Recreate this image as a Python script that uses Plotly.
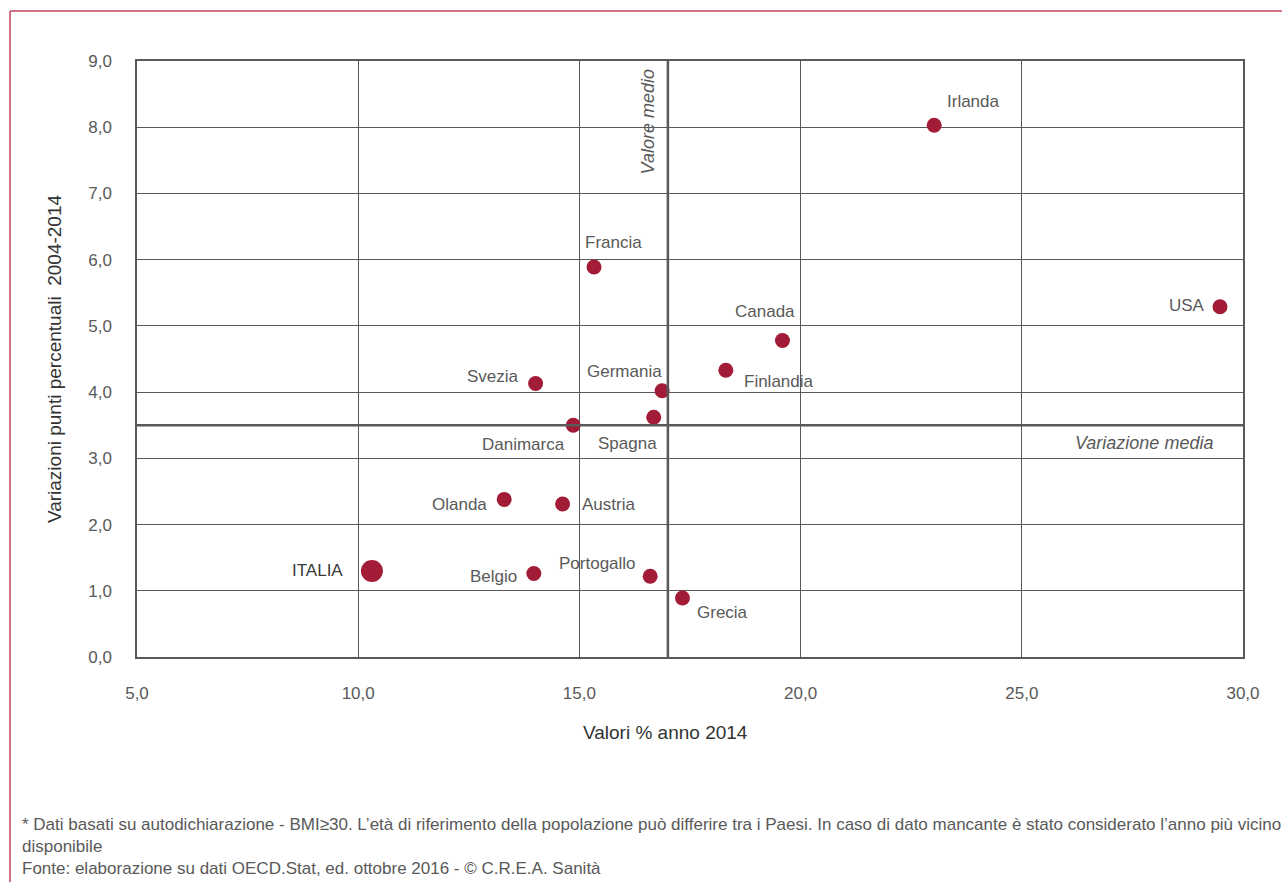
import plotly.graph_objects as go

# Obesity share 2014 (x) vs change in percentage points 2004-2014 (y)
paesi = ["Irlanda", "Francia", "Canada", "USA", "Finlandia", "Germania", "Svezia",
         "Spagna", "Danimarca", "Olanda", "Austria", "Belgio", "Portogallo", "Grecia", "ITALIA"]
valori_2014 = [23.02, 15.33, 19.59, 29.48, 18.31, 16.87, 14.01,
               16.68, 14.86, 13.30, 14.62, 13.97, 16.60, 17.33, 10.31]
variazioni = [8.03, 5.89, 4.78, 5.29, 4.33, 4.02, 4.13,
              3.62, 3.50, 2.38, 2.31, 1.26, 1.22, 0.89, 1.30]

valore_medio = 17.0
variazione_media = 3.5

x_ticks = [5, 10, 15, 20, 25, 30]
y_ticks = [0, 1, 2, 3, 4, 5, 6, 7, 8, 9]

# label placement per country: (xanchor, yanchor, xshift, yshift)
label_pos = {
    "Irlanda":    ("left",   "bottom", 11, 12),
    "Francia":    ("center", "bottom", 19, 13),
    "Canada":     ("right",  "bottom", 15, 17),
    "USA":        ("right",  "middle", -13, 1),
    "Finlandia":  ("left",   "top",    16, 0),
    "Germania":   ("right",  "bottom", 2, 8),
    "Svezia":     ("right",  "middle", -15, 7),
    "Spagna":     ("right",  "top",    5, -15),
    "Danimarca":  ("right",  "top",    -6, -8),
    "Olanda":     ("right",  "middle", -15, -5),
    "Austria":    ("left",   "middle", 17, 0),
    "Belgio":     ("right",  "middle", -15, -3),
    "Portogallo": ("right",  "bottom", -12, 1),
    "Grecia":     ("left",   "top",    13, -3),
    "ITALIA":     ("right",  "middle", -27, 0),
}

FONT = "Liberation Sans Narrow, Arial Narrow, sans-serif"
GREY = "#595959"
DOT = "#A31C37"
FRAME = "#C4455E"

sizes = [22 if p == "ITALIA" else 15 for p in paesi]

fig = go.Figure()
fig.add_trace(go.Scatter(
    x=valori_2014, y=variazioni, mode="markers",
    marker=dict(color=DOT, size=sizes, opacity=1, line=dict(width=0)),
    text=paesi, hoverinfo="text", showlegend=False,
))

for p, xv, yv in zip(paesi, valori_2014, variazioni):
    xa, ya, xs, ys = label_pos[p]
    fig.add_annotation(
        x=xv, y=yv, text=p, showarrow=False,
        xanchor=xa, yanchor=ya, xshift=xs, yshift=ys,
        font=dict(family=FONT, size=17, color="#3a3a3a" if p == "ITALIA" else GREY),
    )

# mean reference lines
fig.add_shape(type="line", xref="x", yref="paper", x0=valore_medio, x1=valore_medio,
              y0=0, y1=1, line=dict(color=GREY, width=2.5), layer="above")
fig.add_shape(type="line", xref="paper", yref="y", x0=0, x1=1,
              y0=variazione_media, y1=variazione_media,
              line=dict(color=GREY, width=2.5), layer="above")

fig.add_annotation(x=valore_medio, y=1, xref="x", yref="paper", text="<i>Valore medio</i>",
                   textangle=-90, showarrow=False, xanchor="right", yanchor="top",
                   xshift=-8, yshift=-6,
                   font=dict(family=FONT, size=18, color=GREY))
fig.add_annotation(x=1, y=variazione_media, xref="paper", yref="y", text="<i>Variazione media</i>",
                   showarrow=False, xanchor="right", yanchor="top", xshift=-28, yshift=-6,
                   font=dict(family=FONT, size=18, color=GREY))

# x-axis title, set slightly left of the plot centre
fig.add_annotation(xref="paper", yref="paper", x=0.4774, y=-0.105, xanchor="center", yanchor="top",
                   text="Valori % anno 2014", showarrow=False,
                   font=dict(family=FONT, size=19, color="#333333"))

# outer frame (top and left edges)
fig.add_shape(type="line", xref="paper", yref="paper", x0=-0.1148, x1=1.1, y0=1.0839, y1=1.0839,
              line=dict(color=FRAME, width=1.5))
fig.add_shape(type="line", xref="paper", yref="paper", x0=-0.1148, x1=-0.1148, y0=-0.4, y1=1.0839,
              line=dict(color=FRAME, width=1.5))

# footnotes
fig.add_annotation(
    xref="paper", yref="paper", x=-0.1058, y=-0.262, xanchor="left", yanchor="top",
    align="left", showarrow=False,
    text=("* Dati basati su autodichiarazione - BMI≥30. L’età di riferimento della popolazione può "
          "differire tra i Paesi. In caso di dato mancante è stato considerato l’anno più vicino<br>"
          "disponibile<br>"
          "Fonte: elaborazione su dati OECD.Stat, ed. ottobre 2016 - © C.R.E.A. Sanità"),
    font=dict(family=FONT, size=17, color=GREY),
)

fig.update_layout(
    width=1282, height=882,
    margin=dict(l=137, r=39, t=61, b=225),
    paper_bgcolor="white", plot_bgcolor="white",
    separators=",.",
    font=dict(family=FONT, size=17, color=GREY),
    xaxis=dict(
        range=[5, 30], tickvals=x_ticks, tickformat=".1f",
        showgrid=True, gridcolor=GREY, gridwidth=1.3,
        showline=True, linecolor=GREY, linewidth=1.5, mirror=True,
        zeroline=False, ticks="", ticklabelstandoff=20,
    ),
    yaxis=dict(
        range=[0, 9], tickvals=y_ticks, tickformat=".1f",
        showgrid=True, gridcolor=GREY, gridwidth=1.3,
        showline=True, linecolor=GREY, linewidth=1.5, mirror=True,
        zeroline=False, ticks="", ticklabelstandoff=20,
        title=dict(text="Variazioni punti percentuali  2004-2014", standoff=22,
                   font=dict(family=FONT, size=19, color="#333333")),
    ),
)

fig.write_html("out.html")
